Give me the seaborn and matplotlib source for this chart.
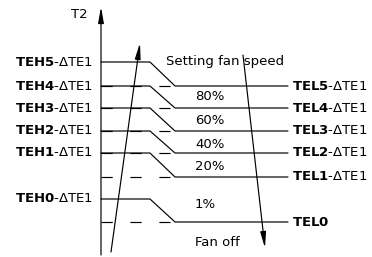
import pandas as pd
import matplotlib
matplotlib.use("Agg")
import matplotlib.pyplot as plt
import seaborn as sns

# levels (pixel rows of the schematic, top = 0)
high_names = ["TEH5", "TEH4", "TEH3", "TEH2", "TEH1", "TEH0"]
high_y = [62, 86, 108, 131, 153, 199]
low_names = ["TEL5", "TEL4", "TEL3", "TEL2", "TEL1", "TEL0"]
low_y = [86, 108, 131, 153, 177, 222]
low_suffix = ["-ΔTE1", "-ΔTE1", "-ΔTE1", "-ΔTE1", "-ΔTE1", ""]
speed_labels = ["80%", "60%", "40%", "20%", "1%", "Fan off"]
speed_y = [96, 120, 144, 166, 204, 243]

# geometry of the step lines
x_axis = 101
x_bend = 150
x_drop = 175
x_end = 288

sns.set_theme(style="white")
plt.rcParams['font.family'] = ['DejaVu Sans']
plt.rcParams['mathtext.fontset'] = 'dejavusans'
plt.rcParams['text.color'] = 'black'

rows = []
for i in range(len(high_y)):
    rows.append({"step": i, "x": x_axis, "y": high_y[i]})
    rows.append({"step": i, "x": x_bend, "y": high_y[i]})
    rows.append({"step": i, "x": x_drop, "y": low_y[i]})
    rows.append({"step": i, "x": x_end, "y": low_y[i]})
df = pd.DataFrame(rows)

fig = plt.figure(figsize=(3.72, 2.57), dpi=100)
ax = fig.add_axes([0, 0, 1, 1])

sns.lineplot(data=df, x="x", y="y", units="step", estimator=None, sort=False,
             color="black", lw=0.85, ax=ax)

# dashed return lines on the left
for y in low_y:
    ax.plot([x_axis, x_drop], [y, y], color="black", lw=0.85,
            linestyle=(0, (9.5, 15)))

# vertical axis with arrow
arrow_style = "-|>,head_length=0.95,head_width=0.17"
ax.annotate("", xy=(x_axis, 7), xytext=(x_axis, 255),
            arrowprops=dict(arrowstyle=arrow_style, color="black", lw=0.85,
                            shrinkA=0, shrinkB=0, mutation_scale=10))
ax.text(88, 15, "T2", ha="right", va="center", fontsize=9.5)

# rising / falling arrows
ax.annotate("", xy=(140, 43), xytext=(111, 252),
            arrowprops=dict(arrowstyle=arrow_style, color="black", lw=0.85,
                            shrinkA=0, shrinkB=0, mutation_scale=10))
ax.annotate("", xy=(265, 248), xytext=(243, 55),
            arrowprops=dict(arrowstyle=arrow_style, color="black", lw=0.85,
                            shrinkA=0, shrinkB=0, mutation_scale=10))

# labels
for name, y in zip(high_names, high_y):
    ax.text(93, y, f"$\\mathbf{{{name}}}$-ΔTE1", ha="right", va="center", fontsize=9.5)
for name, suf, y in zip(low_names, low_suffix, low_y):
    ax.text(292, y, f"$\\mathbf{{{name}}}${suf}", ha="left", va="center", fontsize=9.5)
ax.text(166, 62, "Setting fan speed", ha="left", va="center", fontsize=9.5)
for lab, y in zip(speed_labels, speed_y):
    ax.text(195, y, lab, ha="left", va="center", fontsize=9.5)

ax.set_xlim(0, 372)
ax.set_ylim(257, 0)
ax.axis("off")

fig.savefig("out.png", dpi=100, facecolor="white")
